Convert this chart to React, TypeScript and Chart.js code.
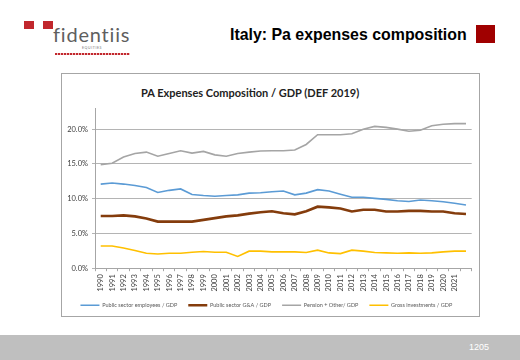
import React, { useEffect, useRef } from "react";
import { Chart, registerables } from "chart.js";

Chart.register(...registerables);

const years = [
  "1990","1991","1992","1993","1994","1995","1996","1997","1998","1999",
  "2000","2001","2002","2003","2004","2005","2006","2007","2008","2009",
  "2010","2011","2012","2013","2014","2015","2016","2017","2018","2019",
  "2020","2021","",
];

const employees = [12.1,12.25,12.1,11.9,11.6,10.9,11.2,11.4,10.6,10.45,10.35,10.45,10.55,10.8,10.85,11.0,11.1,10.55,10.8,11.3,11.1,10.65,10.2,10.2,10.05,9.9,9.7,9.6,9.8,9.7,9.55,9.35,9.1];
const gna = [7.5,7.5,7.6,7.45,7.15,6.7,6.7,6.7,6.7,6.95,7.2,7.45,7.6,7.85,8.05,8.2,7.9,7.75,8.2,8.85,8.75,8.6,8.15,8.4,8.4,8.15,8.15,8.25,8.25,8.15,8.15,7.9,7.8];
const pension = [14.9,15.1,16.0,16.5,16.7,16.1,16.5,16.9,16.55,16.8,16.3,16.1,16.5,16.7,16.85,16.9,16.9,17.0,17.8,19.2,19.2,19.2,19.35,20.0,20.4,20.25,20.0,19.7,19.85,20.5,20.7,20.8,20.8];
const invest = [3.2,3.2,2.9,2.55,2.15,2.05,2.15,2.15,2.3,2.4,2.3,2.3,1.7,2.45,2.45,2.35,2.35,2.35,2.25,2.6,2.2,2.1,2.6,2.45,2.25,2.2,2.15,2.2,2.15,2.2,2.35,2.45,2.45];

const seriesNames = [
  "Public sector employees / GDP",
  "Public sector G&A / GDP",
  "Pension + Other/ GDP",
  "Gross investments / GDP",
];
const yTicks = [0, 5, 10, 15, 20];

export default function App() {
  const ref = useRef<HTMLCanvasElement | null>(null);

  useEffect(() => {
    if (!ref.current) return;
    const mk = (label: string, data: number[], color: string, w: number) => ({
      label,
      data,
      borderColor: color,
      backgroundColor: color,
      borderWidth: w,
      pointRadius: 0,
      pointHoverRadius: 0,
      tension: 0,
      fill: false,
    });
    const chart = new Chart(ref.current, {
      type: "line",
      data: {
        labels: years,
        datasets: [
          mk(seriesNames[0], employees, "#5b9bd5", 1.6),
          mk(seriesNames[1], gna, "#843c0c", 2.6),
          mk(seriesNames[2], pension, "#a5a5a5", 1.6),
          mk(seriesNames[3], invest, "#ffc000", 1.6),
        ],
      },
      options: {
        animation: false,
        responsive: false,
        devicePixelRatio: 1,
        layout: { padding: { left: 0, right: 8.3, top: 35.3, bottom: 5 } },
        plugins: {
          title: { display: false },
          tooltip: { enabled: false },
          legend: {
            position: "bottom",
            labels: {
              usePointStyle: true,
              pointStyle: "line",
              pointStyleWidth: 19,
              padding: 11,
              color: "#595959",
              font: { family: "Lato", size: 5.5 },
            },
          },
        },
        scales: {
          x: {
            type: "category",
            offset: true,
            afterFit: (s: any) => { s.height = 23.3; },
            grid: {
              drawOnChartArea: false,
              drawTicks: true,
              tickLength: 3,
              offset: true,
              color: "#a6a6a6",
            },
            border: { display: true, color: "#a6a6a6", width: 1 },
            ticks: {
              autoSkip: false,
              minRotation: 90,
              maxRotation: 90,
              padding: 3,
              color: "#404040",
              font: { family: "Lato", size: 7.5 },
            },
          },
          y: {
            min: 0,
            max: 23,
            afterFit: (s: any) => { s.width = 34; },
            afterBuildTicks: (s: any) => {
              s.ticks = yTicks.map((v) => ({ value: v }));
            },
            grid: {
              color: "#b4b4b4",
              lineWidth: 1,
              drawTicks: true,
              tickLength: 3,
            },
            border: { display: true, color: "#a6a6a6", width: 1 },
            ticks: {
              padding: 4,
              color: "#404040",
              font: { family: "Lato", size: 7.5 },
              callback: (v: any) => Number(v).toFixed(1) + "%",
            },
          },
        },
      },
    });
    return () => chart.destroy();
  }, []);

  const abs = (s: React.CSSProperties): React.CSSProperties => ({ position: "absolute", ...s });

  return (
    <div style={{ position: "fixed", left: 0, top: 0, width: 520, height: 360, background: "#fff", overflow: "hidden" }}>
      <div style={abs({ left: 24, top: 21, width: 10, height: 8, background: "#c1272d" })} />
      <div style={abs({ left: 43, top: 21, width: 10, height: 8, background: "#c1272d" })} />
      <div style={abs({ left: 53, top: 22, fontFamily: "Lato", fontSize: 20, letterSpacing: 0.8, color: "#5f5f5f", lineHeight: "24px" })}>fidentiis</div>
      <div style={abs({ left: 82, top: 46, fontFamily: "Lato", fontSize: 3.5, letterSpacing: 0.6, color: "#777", lineHeight: "4px" })}>EQUITIES</div>
      <div style={abs({ left: 55, top: 53, width: 75, height: 2, backgroundImage: "repeating-linear-gradient(90deg, #c1272d 0 2px, #f3c0c0 2px 3px)" })} />

      <div style={abs({ left: 230, top: 25, fontFamily: "Liberation Sans", fontWeight: "bold", fontSize: 15.9, color: "#000", lineHeight: "20px", whiteSpace: "nowrap" })}>Italy: Pa expenses composition</div>
      <div style={abs({ left: 476, top: 25, width: 19, height: 18, background: "#a00000" })} />

      <div style={abs({ left: 61, top: 73, width: 419, height: 244, border: "1px solid #a6a6a6", boxSizing: "border-box" })} />
      <div style={abs({ left: 141, top: 86, fontFamily: "Lato", fontWeight: "bold", fontSize: 11, color: "#222", lineHeight: "14px", whiteSpace: "nowrap" })}>PA Expenses Composition / GDP (DEF 2019)</div>
      <canvas ref={ref} width={419} height={250} style={abs({ left: 61, top: 73, width: 419, height: 250 })} />

      <div style={abs({ left: 0, top: 335, width: 520, height: 25, background: "#bfbfbf" })} />
      <div style={abs({ left: 469, top: 341, fontFamily: "Liberation Sans", fontSize: 9, color: "#fff", lineHeight: "12px" })}>1205</div>
    </div>
  );
}
